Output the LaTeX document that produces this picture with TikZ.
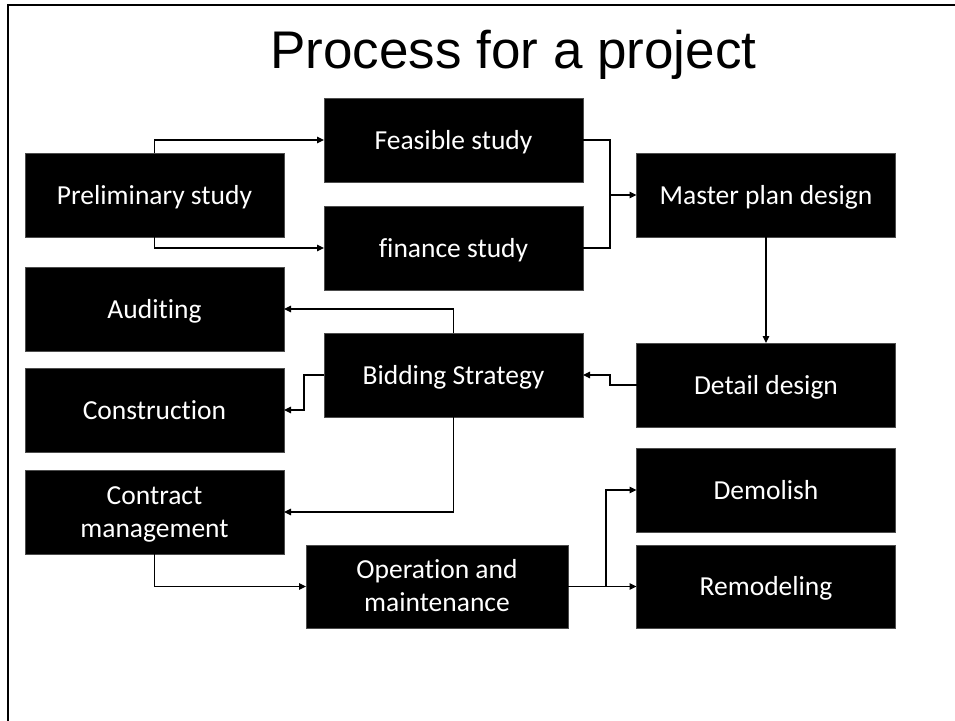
\documentclass[tikz,border=0pt]{standalone}
\usepackage{fontspec}
\setmainfont{Carlito}[Ligatures=NoCommon]
\newfontfamily\titlefont{Liberation Sans}
\usetikzlibrary{arrows.meta}
\begin{document}
\begin{tikzpicture}[x=1pt,y=-1pt,
  blk/.style={fill=black,draw=black!70,line width=0.6pt,text=white,
    minimum width=259pt,minimum height=84pt,inner sep=0pt,outer sep=0pt,
    align=center,font=\fontsize{27.5}{33}\selectfont,
    text height=18pt,text depth=0pt},
  blktwo/.style={blk,text height=50pt,text depth=0pt},
  conn/.style={draw=black,line width=1.1pt},
  arr/.style={conn,-{Triangle[length=7pt,width=6.5pt]}}]
\useasboundingbox (0,0) rectangle (955,720);
\fill[white] (0,0) rectangle (955,720);
% frame
\draw[line width=2.8pt] (8,722) -- (8,5) -- (957,5);
% title
\node[anchor=base,inner sep=0pt,font=\titlefont\fontsize{53}{60}\selectfont] (title) at (513.5,68) {Process for a project};
% boxes
\node[blk] (pre) at (154.5,195) {Preliminary study};
\node[blk] (fea) at (453.5,140) {Feasible study};
\node[blk] (fin) at (453.5,248) {finance study};
\node[blk] (mas) at (766,195) {Master plan design};
\node[blk] (aud) at (154.5,309) {Auditing};
\node[blk] (con) at (154.5,410) {Construction};
\node[blk] (bid) at (453.5,375) {Bidding Strategy};
\node[blk] (det) at (766,385) {Detail design};
\node[blktwo] (ctr) at (154.5,512) {Contract\\management};
\node[blktwo,minimum width=262pt,minimum height=83pt] (ope) at (437,586.5) {Operation and\\maintenance};
\node[blk] (dem) at (766,490) {Demolish};
\node[blk,minimum height=83pt] (rem) at (766,586.5) {Remodeling};
% junction coordinates
\coordinate (j1) at (610,195);
\coordinate (j2) at (304,375);
\coordinate (j3) at (606,586.5);
% connectors
\draw[arr] (pre.north) |- (fea.west);
\draw[arr] (pre.south) |- (fin.west);
\draw[conn] (fea.east) -| (j1) |- (fin.east);
\draw[arr] (j1) -- (mas.west);
\draw[arr] (mas.south) -- (det.north);
\draw[arr] (det.west) -- (det.west -| j1) |- (bid.east);
\draw[arr] (bid.north) |- (aud.east);
\draw[arr] (bid.west) -- (j2) |- (con.east);
\draw[arr] (bid.south) |- (ctr.east);
\draw[arr] (ctr.south) |- (ope.west);
\draw[arr] (ope.east) -- (rem.west);
\draw[arr] (j3) |- (dem.west);
\end{tikzpicture}
\end{document}
